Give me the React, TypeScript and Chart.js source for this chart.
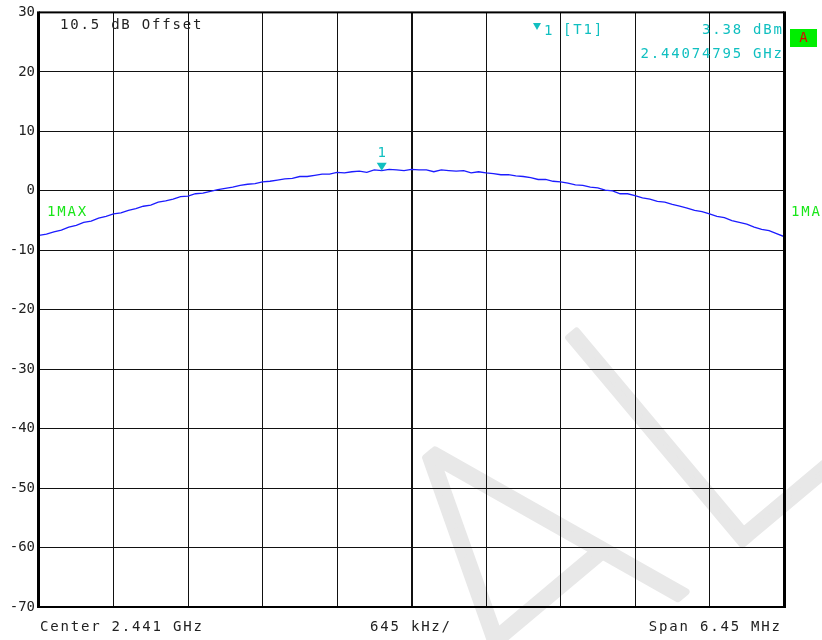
import React, { useEffect, useRef } from "react";
import { Chart, registerables } from "chart.js";

Chart.register(...registerables);

// Y axis (dBm) tick labels
const Y_TICKS = [30, 20, 10, 0, -10, -20, -30, -40, -50, -60, -70];
// vertical grid divisions (sample index), 10 divisions of 645 kHz
const X_GRID = [0, 10, 20, 30, 40, 50, 60, 70, 80, 90, 100];

// Trace 1 (MAX hold), dBm, 101 samples across the 6.45 MHz span
const TRACE_DBM = [
  -7.5, -7.3, -6.9, -6.6, -6.1, -5.8, -5.3, -5.1, -4.6, -4.3,
  -3.9, -3.7, -3.3, -3.0, -2.6, -2.4, -1.9, -1.7, -1.4, -1.0,
  -0.9, -0.5, -0.4, -0.1, 0.2, 0.4, 0.6, 0.9, 1.1, 1.2,
  1.5, 1.6, 1.8, 2.0, 2.1, 2.4, 2.4, 2.6, 2.8, 2.8,
  3.1, 3.0, 3.2, 3.3, 3.1, 3.5, 3.4, 3.6, 3.5, 3.4,
  3.6,
  3.5, 3.5, 3.2, 3.5, 3.4, 3.3, 3.4, 3.0, 3.2, 3.0,
  2.9, 2.7, 2.7, 2.5, 2.4, 2.2, 1.9, 1.9, 1.6, 1.5,
  1.3, 1.0, 0.9, 0.6, 0.5, 0.1, 0.0, -0.5, -0.5, -0.8,
  -1.2, -1.4, -1.8, -1.9, -2.3, -2.6, -2.9, -3.3, -3.5, -3.9,
  -4.3, -4.5, -5.0, -5.3, -5.6, -6.1, -6.5, -6.7, -7.2, -7.7,
];

const MARKER_INDEX = 46;
const MARKER_DBM = 3.38;

const OFFSET_TEXT = "10.5 dB Offset";
const MARKER_NUM = "1";
const MARKER_TRACE = "[T1]";
const MARKER_LEVEL_TEXT = "3.38 dBm";
const MARKER_FREQ_TEXT = "2.44074795 GHz";
const CENTER_TEXT = "Center 2.441 GHz";
const DIV_TEXT = "645 kHz/";
const SPAN_TEXT = "Span 6.45 MHz";
const TRACE_LABEL_LEFT = "1MAX";
const TRACE_LABEL_RIGHT = "1MA";
const BADGE_TEXT = "A";
const WATERMARK_LETTERS = ["A", "L"];

const MONO = "'DejaVu Sans Mono', 'Liberation Mono', monospace";
const SPACING = 1.8;
const CYAN = "#10bfc0";
const GREEN = "#19e619";

function spacedText(ctx: CanvasRenderingContext2D, text: string, x: number, y: number, align: "left" | "right" | "center", color: string) {
  ctx.save();
  ctx.font = `14px ${MONO}`;
  (ctx as any).letterSpacing = `${SPACING}px`;
  ctx.fillStyle = color;
  ctx.textBaseline = "middle";
  const w = ctx.measureText(text).width - SPACING;
  let sx = x;
  if (align === "right") sx = x - w;
  if (align === "center") sx = x - w / 2;
  ctx.textAlign = "left";
  ctx.fillText(text, sx, y);
  ctx.restore();
}

const overlayPlugin = {
  id: "overlay",
  beforeDraw(chart: any) {
    const ctx: CanvasRenderingContext2D = chart.ctx;
    ctx.save();
    ctx.fillStyle = "#ffffff";
    ctx.fillRect(0, 0, chart.width, chart.height);
    // watermark
    ctx.translate(743, 544);
    ctx.rotate((-40 * Math.PI) / 180);
    const fs = 380;
    ctx.font = `100 ${fs}px Roboto`;
    ctx.fillStyle = "#e8e8e8";
    ctx.strokeStyle = "#e8e8e8";
    ctx.lineWidth = 7;
    ctx.lineJoin = "round";
    ctx.textBaseline = "alphabetic";
    const wA = ctx.measureText(WATERMARK_LETTERS[0]).width;
    const xL = -0.1 * fs;
    const xA = xL - wA - 30;
    ctx.fillText(WATERMARK_LETTERS[0], xA, 0);
    ctx.strokeText(WATERMARK_LETTERS[0], xA, 0);
    ctx.fillText(WATERMARK_LETTERS[1], xL, 0);
    ctx.strokeText(WATERMARK_LETTERS[1], xL, 0);
    ctx.restore();
  },
  afterDatasetsDraw(chart: any) {
    const ctx: CanvasRenderingContext2D = chart.ctx;
    const { left, right, top, bottom } = chart.chartArea;
    const xs = chart.scales.x;
    const ys = chart.scales.y;
    ctx.save();
    // frame
    ctx.fillStyle = "#000";
    ctx.fillRect(left - 2, top - 1, 3, bottom - top + 2);
    ctx.fillRect(right - 1, top - 1, 3, bottom - top + 2);
    ctx.fillRect(left, top - 1, right - left, 2);
    ctx.fillRect(left, bottom - 1, right - left, 2);

    // marker
    const mx = xs.getPixelForValue(MARKER_INDEX);
    const my = ys.getPixelForValue(MARKER_DBM);
    ctx.fillStyle = CYAN;
    ctx.beginPath();
    ctx.moveTo(mx - 5, my - 8);
    ctx.lineTo(mx + 5, my - 8);
    ctx.lineTo(mx, my);
    ctx.closePath();
    ctx.fill();
    spacedText(ctx, MARKER_NUM, mx, my - 17, "center", CYAN);

    // top texts
    spacedText(ctx, OFFSET_TEXT, left + 21, top + 13, "left", "#222");
    ctx.fillStyle = CYAN;
    ctx.beginPath();
    ctx.moveTo(533, 23);
    ctx.lineTo(541, 23);
    ctx.lineTo(537, 30);
    ctx.closePath();
    ctx.fill();
    spacedText(ctx, MARKER_NUM, 544, 31, "left", CYAN);
    spacedText(ctx, MARKER_TRACE, 563, 30, "left", CYAN);
    spacedText(ctx, MARKER_LEVEL_TEXT, right - 2, 30, "right", CYAN);
    spacedText(ctx, MARKER_FREQ_TEXT, right - 2, 54, "right", CYAN);

    // trace labels
    spacedText(ctx, TRACE_LABEL_LEFT, left + 8, 212, "left", GREEN);
    spacedText(ctx, TRACE_LABEL_RIGHT, right + 7, 212, "left", GREEN);

    // badge
    ctx.fillStyle = "#00ee00";
    ctx.fillRect(790, 29, 27, 18);
    spacedText(ctx, BADGE_TEXT, 803.5, 38, "center", "#e00000");

    // bottom texts
    spacedText(ctx, CENTER_TEXT, left + 1, 627, "left", "#222");
    spacedText(ctx, DIV_TEXT, 370, 627, "left", "#222");
    spacedText(ctx, SPAN_TEXT, right - 4, 627, "right", "#222");
    ctx.restore();
  },
};

export default function App() {
  const ref = useRef<HTMLCanvasElement | null>(null);
  useEffect(() => {
    if (!ref.current) return;
    const center = (TRACE_DBM.length - 1) / 2;
    const chart = new Chart(ref.current, {
      type: "line",
      data: {
        datasets: [
          {
            data: TRACE_DBM.map((v, i) => ({ x: i, y: v })),
            borderColor: "#1c1cff",
            borderWidth: 1.3,
            pointRadius: 0,
            tension: 0,
            fill: false,
          },
        ],
      },
      options: {
        responsive: false,
        animation: false,
        devicePixelRatio: 1,
        layout: { padding: { top: 12, right: 38, bottom: 0, left: 0 } },
        plugins: { legend: { display: false }, tooltip: { enabled: false } },
        scales: {
          x: {
            type: "linear",
            min: 0,
            max: TRACE_DBM.length - 1,
            afterBuildTicks: (s: any) => {
              s.ticks = X_GRID.map((v) => ({ value: v }));
            },
            afterFit: (s: any) => {
              s.height = 33;
            },
            ticks: { display: false },
            border: { display: false },
            grid: {
              color: "#111",
              lineWidth: (c: any) => (c.tick && c.tick.value === center ? 2 : 1),
              drawTicks: false,
            },
          },
          y: {
            min: -70,
            max: 30,
            afterBuildTicks: (s: any) => {
              s.ticks = Y_TICKS.map((v) => ({ value: v }));
            },
            afterFit: (s: any) => {
              s.width = 39;
            },
            ticks: {
              color: "#222",
              padding: 4,
              font: { family: MONO, size: 14 },
              callback: (v: any) => String(v),
            },
            border: { display: false },
            grid: { color: "#111", lineWidth: 1, drawTicks: false },
          },
        },
      },
      plugins: [overlayPlugin],
    });
    return () => chart.destroy();
  }, []);
  return (
    <div style={{ position: "fixed", left: 0, top: 0, width: 822, height: 640 }}>
      <canvas ref={ref} width={822} height={640} style={{ display: "block" }} />
    </div>
  );
}
